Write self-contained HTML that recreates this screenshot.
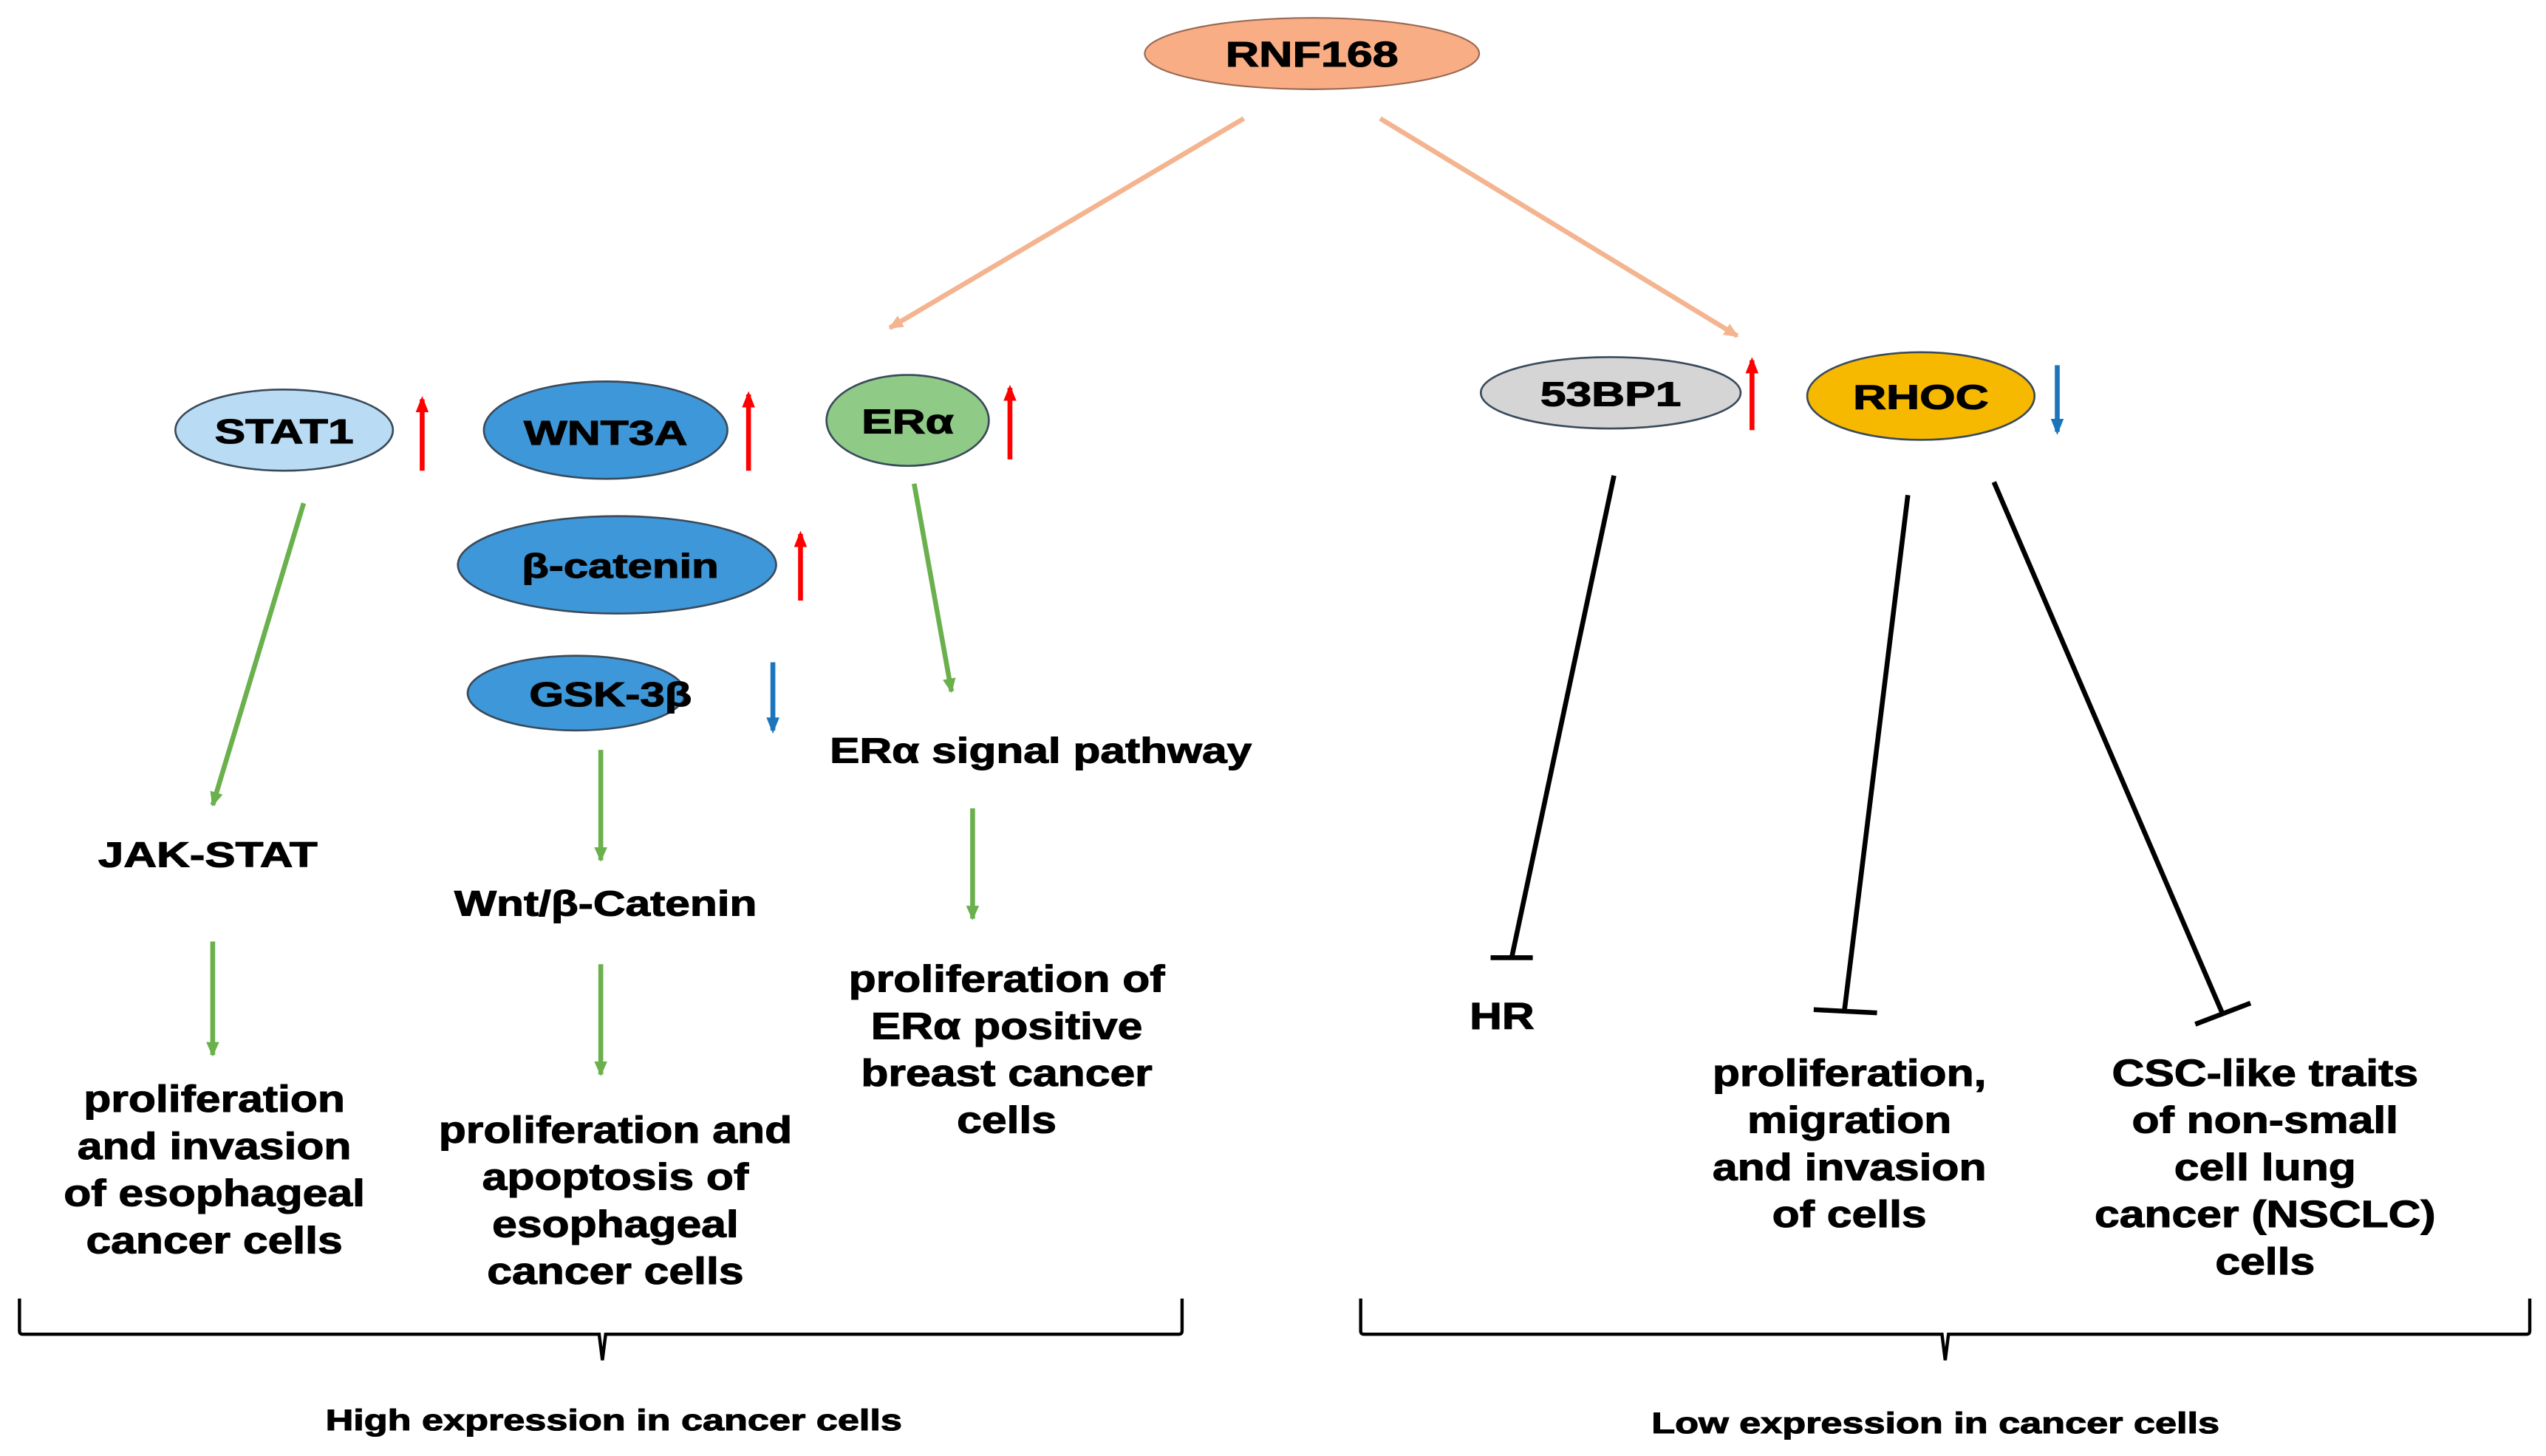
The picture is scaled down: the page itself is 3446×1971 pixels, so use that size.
<!DOCTYPE html>
<html><head><meta charset="utf-8"><style>
html,body{margin:0;padding:0;background:#fff;}
svg{display:block;}
text{font-family:"Liberation Sans",Arial,sans-serif;font-weight:bold;fill:#000;text-anchor:middle;stroke:#000;stroke-width:0.5;}
</style></head><body>
<svg width="3446" height="1971" viewBox="0 0 1568 897" preserveAspectRatio="none" xmlns="http://www.w3.org/2000/svg">
<defs>
<marker id="as" markerWidth="10" markerHeight="10" refX="8" refY="5" orient="auto" markerUnits="userSpaceOnUse"><path d="M0,1 L9,5 L0,9 Z" fill="#f4b48f"/></marker>
<marker id="ag" markerWidth="10" markerHeight="10" refX="8" refY="5" orient="auto" markerUnits="userSpaceOnUse"><path d="M0,1 L9,5 L0,9 Z" fill="#6ab04c"/></marker>
<marker id="ar" markerWidth="10" markerHeight="12" refX="8" refY="5" orient="auto" markerUnits="userSpaceOnUse"><path d="M0,1 L10,5 L0,9 Z" fill="#f00"/></marker>
<marker id="ab" markerWidth="10" markerHeight="12" refX="8" refY="5" orient="auto" markerUnits="userSpaceOnUse"><path d="M0,1 L10,5 L0,9 Z" fill="#1b75bc"/></marker>
</defs>
<ellipse cx="808" cy="33" rx="103" ry="22" fill="#f9ad84" stroke="#9a6a55" stroke-width="1"/>
<text x="808" y="41" font-size="22" transform="matrix(1.3,0,0,1,-242.4,0)">RNF168</text>
<line x1="766" y1="73" x2="548" y2="202" stroke="#f4b48f" stroke-width="3" marker-end="url(#as)"/>
<line x1="850" y1="73" x2="1070" y2="207" stroke="#f4b48f" stroke-width="3" marker-end="url(#as)"/>
<g stroke="#3a4a5a" stroke-width="1.2">
<ellipse cx="175" cy="265" rx="67" ry="25" fill="#b9dcf4"/>
<ellipse cx="373" cy="265" rx="75" ry="30" fill="#3d97d8"/>
<ellipse cx="559" cy="259" rx="50" ry="28" fill="#8fca87"/>
<ellipse cx="380" cy="348" rx="98" ry="30" fill="#3d97d8"/>
<ellipse cx="355" cy="427" rx="67" ry="23" fill="#3d97d8"/>
<ellipse cx="992" cy="242" rx="80" ry="22" fill="#d5d5d5"/>
<ellipse cx="1183" cy="244" rx="70" ry="27" fill="#f7b800"/>
</g>
<g font-size="21">
<text x="175" y="273" transform="matrix(1.35,0,0,1,-61.25,0)">STAT1</text>
<text x="373" y="274" transform="matrix(1.35,0,0,1,-130.55,0)">WNT3A</text>
<text x="559" y="267" transform="matrix(1.35,0,0,1,-195.65,0)">ERα</text>
<text x="382" y="356" transform="matrix(1.3,0,0,1,-114.6,0)">β-catenin</text>
<text x="376" y="435" transform="matrix(1.3,0,0,1,-112.8,0)">GSK-3β</text>
<text x="992" y="250" transform="matrix(1.35,0,0,1,-347.2,0)">53BP1</text>
<text x="1183" y="252" transform="matrix(1.35,0,0,1,-414.05,0)">RHOC</text>
</g>
<g stroke-width="3">
<line x1="260" y1="290" x2="260" y2="246" stroke="#f00" marker-end="url(#ar)"/>
<line x1="461" y1="290" x2="461" y2="243" stroke="#f00" marker-end="url(#ar)"/>
<line x1="622" y1="283" x2="622" y2="239" stroke="#f00" marker-end="url(#ar)"/>
<line x1="493" y1="370" x2="493" y2="329" stroke="#f00" marker-end="url(#ar)"/>
<line x1="1079" y1="265" x2="1079" y2="222" stroke="#f00" marker-end="url(#ar)"/>
<line x1="476" y1="408" x2="476" y2="450" stroke="#1b75bc" marker-end="url(#ab)"/>
<line x1="1267" y1="225" x2="1267" y2="266" stroke="#1b75bc" marker-end="url(#ab)"/>
</g>
<g stroke="#6ab04c" stroke-width="3">
<line x1="187" y1="310" x2="131" y2="496" marker-end="url(#ag)"/>
<line x1="370" y1="462" x2="370" y2="530" marker-end="url(#ag)"/>
<line x1="563" y1="298" x2="586" y2="426" marker-end="url(#ag)"/>
<line x1="131" y1="580" x2="131" y2="650" marker-end="url(#ag)"/>
<line x1="370" y1="594" x2="370" y2="662" marker-end="url(#ag)"/>
<line x1="599" y1="498" x2="599" y2="566" marker-end="url(#ag)"/>
</g>
<g font-size="22">
<text x="128" y="534" transform="matrix(1.28,0,0,1,-35.84,0)">JAK-STAT</text>
<text x="373" y="564" transform="matrix(1.25,0,0,1,-93.25,0)">Wnt/β-Catenin</text>
<text x="641" y="470" transform="matrix(1.25,0,0,1,-160.25,0)">ERα signal pathway</text>
</g>
<g font-size="23">
<g transform="matrix(1.2,0,0,1,-26.4,0)"><text x="132" y="685">proliferation</text><text x="132" y="714">and invasion</text><text x="132" y="743">of esophageal</text><text x="132" y="772">cancer cells</text></g>
<g transform="matrix(1.2,0,0,1,-75.8,0)"><text x="379" y="704">proliferation and</text><text x="379" y="733">apoptosis of</text><text x="379" y="762">esophageal</text><text x="379" y="791">cancer cells</text></g>
<g transform="matrix(1.2,0,0,1,-124,0)"><text x="620" y="611">proliferation of</text><text x="620" y="640">ERα positive</text><text x="620" y="669">breast cancer</text><text x="620" y="698">cells</text></g>
<g transform="matrix(1.2,0,0,1,-185,0)"><text x="925" y="634">HR</text></g>
<g transform="matrix(1.2,0,0,1,-227.8,0)"><text x="1139" y="669">proliferation,</text><text x="1139" y="698">migration</text><text x="1139" y="727">and invasion</text><text x="1139" y="756">of cells</text></g>
<g transform="matrix(1.2,0,0,1,-279,0)"><text x="1395" y="669">CSC-like traits</text><text x="1395" y="698">of non-small</text><text x="1395" y="727">cell lung</text><text x="1395" y="756">cancer (NSCLC)</text><text x="1395" y="785">cells</text></g>
</g>
<g stroke="#000" stroke-width="3">
<line x1="994" y1="293" x2="931" y2="590"/><line x1="918" y1="590" x2="944" y2="590"/>
<line x1="1175" y1="305" x2="1136" y2="622"/><line x1="1117" y1="622" x2="1156" y2="624"/>
<line x1="1228" y1="297" x2="1369" y2="625"/><line x1="1352" y1="631" x2="1386" y2="618"/>
</g>
<g fill="none" stroke="#000" stroke-width="2">
<path d="M12,800 L12,820 Q12,822 14,822 L369,822 L371,838 L373,822 L726,822 Q728,822 728,820 L728,800"/>
<path d="M838,800 L838,820 Q838,822 840,822 L1196,822 L1198,838 L1200,822 L1556,822 Q1558,822 1558,820 L1558,800"/>
</g>
<g font-size="18">
<text x="378" y="881" transform="matrix(1.32,0,0,1,-120.96,0)">High expression in cancer cells</text>
<text x="1192" y="883" transform="matrix(1.32,0,0,1,-381.44,0)">Low expression in cancer cells</text>
</g>
</svg>
</body></html>
